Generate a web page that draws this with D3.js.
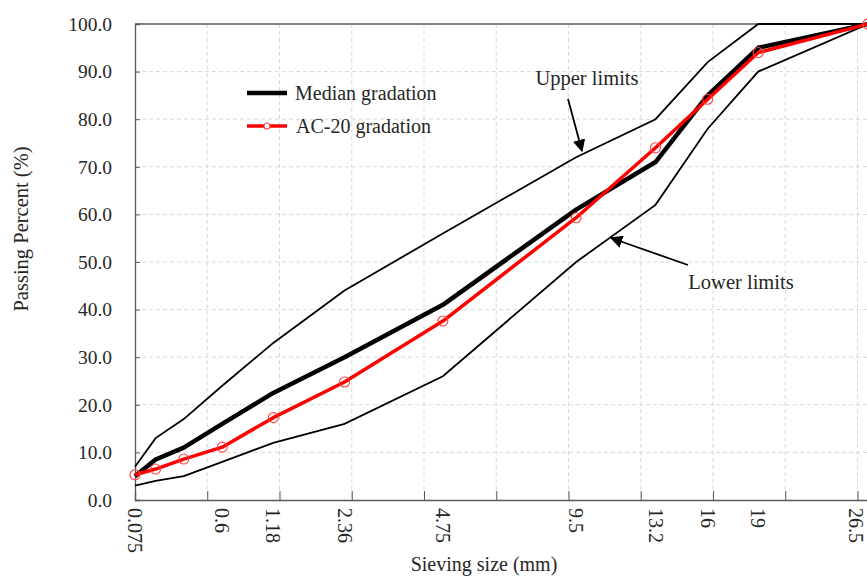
<!DOCTYPE html>
<html>
<head>
<meta charset="utf-8">
<script src="https://cdn.jsdelivr.net/npm/d3@7.9.0/dist/d3.min.js"></script>
<style>
  body { margin: 0; background: #fff; }
  svg { display: block; font-family: "Liberation Serif", "Times New Roman", serif; }
</style>
</head>
<body>
<svg id="chart" width="867" height="577"></svg>
<script>
// sieve sizes (mm) and passing percentages
const sieves = [0.075, 0.15, 0.3, 0.6, 1.18, 2.36, 4.75, 9.5, 13.2, 16, 19, 26.5];
const upperLimits = [7, 13, 17, 24, 33, 44, 56, 72, 80, 92, 100, 100];
const lowerLimits = [3, 4, 5, 8, 12, 16, 26, 50, 62, 78, 90, 100];
const median = [5, 8.5, 11, 16, 22.5, 30, 41, 61, 71, 85, 95, 100];
const ac20 = [5.3, 6.5, 8.6, 11.1, 17.3, 24.8, 37.6, 59.3, 74.0, 84.2, 94.0, 100];

// tick labels shown under the axis
const xLabels = [0.075, 0.6, 1.18, 2.36, 4.75, 9.5, 13.2, 16, 19, 26.5];
const yTicks = [0, 10, 20, 30, 40, 50, 60, 70, 80, 90, 100];

const svg = d3.select('#chart');

// plot area
const plotLeft = 135, plotRight = 868, plotTop = 24, plotBottom = 500;

// power 0.45 scale, as usual for gradation curves
const x = d3.scalePow().exponent(0.45).domain([0.075, 26.5]).range([plotLeft, plotRight]);
const y = d3.scaleLinear().domain([0, 100]).range([plotBottom, plotTop]);

// the gridlines are evenly spaced in the transformed unit (step 0.4)
const u0 = Math.pow(0.075, 0.45);
const gridX = d3.range(0, 11).map(k => Math.pow(u0 + 0.4 * k, 1 / 0.45));

// gridlines
svg.append('g')
  .selectAll('line')
  .data(gridX.slice(1))
  .join('line')
  .attr('x1', d => x(d)).attr('x2', d => x(d))
  .attr('y1', plotTop).attr('y2', plotBottom)
  .attr('stroke', '#d9d9d9')
  .attr('stroke-dasharray', '4,3');

svg.append('g')
  .selectAll('line')
  .data(yTicks.slice(1, -1))
  .join('line')
  .attr('x1', plotLeft).attr('x2', plotRight)
  .attr('y1', d => y(d)).attr('y2', d => y(d))
  .attr('stroke', '#d9d9d9')
  .attr('stroke-dasharray', '4,3');

// top border
svg.append('line')
  .attr('x1', plotLeft).attr('x2', plotRight)
  .attr('y1', y(100)).attr('y2', y(100))
  .attr('stroke', '#595959').attr('stroke-width', 1.3);

// y axis (ticks inside)
const yAxis = svg.append('g')
  .attr('transform', `translate(${plotLeft},0)`)
  .call(d3.axisRight(y).tickValues(yTicks).tickSize(5).tickFormat(''));
yAxis.select('.domain').attr('stroke', '#595959').attr('stroke-width', 1.3);
yAxis.selectAll('.tick line').attr('stroke', '#595959');

svg.append('g')
  .selectAll('text')
  .data(yTicks)
  .join('text')
  .attr('x', 112)
  .attr('y', d => y(d))
  .attr('dy', '0.35em')
  .attr('text-anchor', 'end')
  .attr('font-size', 19.5)
  .attr('fill', '#262626')
  .text(d => d.toFixed(1));

// x axis (ticks inside)
const xAxis = svg.append('g')
  .attr('transform', `translate(0,${plotBottom})`)
  .call(d3.axisTop(x).tickValues(gridX).tickSize(9).tickFormat(''));
xAxis.select('.domain').attr('stroke', '#595959').attr('stroke-width', 1.3);
xAxis.selectAll('.tick line').attr('stroke', '#595959');

// rotated labels, kept inside the right edge
svg.append('g')
  .selectAll('text')
  .data(xLabels)
  .join('text')
  .attr('transform', d => `translate(${Math.min(x(d), plotRight - 12)},${plotBottom + 8}) rotate(90)`)
  .attr('dy', '0.35em')
  .attr('font-size', 20)
  .attr('fill', '#262626')
  .text(d => d);

// axis titles
svg.append('text')
  .attr('transform', `translate(28,229) rotate(-90)`)
  .attr('text-anchor', 'middle')
  .attr('font-size', 20.5)
  .attr('fill', '#262626')
  .text('Passing Percent (%)');

svg.append('text')
  .attr('x', 484).attr('y', 571)
  .attr('text-anchor', 'middle')
  .attr('font-size', 20)
  .attr('fill', '#262626')
  .text('Sieving size (mm)');

// lines
const line = d3.line()
  .x((d, i) => x(sieves[i]))
  .y(d => y(d));

svg.append('path').datum(upperLimits)
  .attr('d', line).attr('fill', 'none')
  .attr('stroke', '#000').attr('stroke-width', 1.8);

svg.append('path').datum(lowerLimits)
  .attr('d', line).attr('fill', 'none')
  .attr('stroke', '#000').attr('stroke-width', 1.8);

svg.append('path').datum(median)
  .attr('d', line).attr('fill', 'none')
  .attr('stroke', '#000').attr('stroke-width', 4.5)
  .attr('stroke-linejoin', 'round');

svg.append('path').datum(ac20)
  .attr('d', line).attr('fill', 'none')
  .attr('stroke', '#ff0000').attr('stroke-width', 3.5)
  .attr('stroke-linejoin', 'round');

svg.append('g')
  .selectAll('circle')
  .data(ac20)
  .join('circle')
  .attr('cx', (d, i) => x(sieves[i]))
  .attr('cy', d => y(d))
  .attr('r', 5)
  .attr('fill', 'none')
  .attr('stroke', '#ff4040')
  .attr('stroke-width', 1.1);

// legend
const legend = svg.append('g');
legend.append('line')
  .attr('x1', 247).attr('x2', 287).attr('y1', 93).attr('y2', 93)
  .attr('stroke', '#000').attr('stroke-width', 4.5);
legend.append('text')
  .attr('x', 295).attr('y', 100)
  .attr('font-size', 20).attr('fill', '#262626')
  .text('Median gradation');
legend.append('line')
  .attr('x1', 247).attr('x2', 287).attr('y1', 126).attr('y2', 126)
  .attr('stroke', '#ff0000').attr('stroke-width', 3.5);
legend.append('circle')
  .attr('cx', 267).attr('cy', 126).attr('r', 3)
  .attr('fill', '#fff').attr('stroke', '#ff4040').attr('stroke-width', 1.1);
legend.append('text')
  .attr('x', 296).attr('y', 133)
  .attr('font-size', 20).attr('fill', '#262626')
  .text('AC-20 gradation');

// annotations with arrows
svg.append('defs').append('marker')
  .attr('id', 'arrow')
  .attr('viewBox', '0 0 10 10')
  .attr('refX', 9).attr('refY', 5)
  .attr('markerWidth', 7).attr('markerHeight', 7)
  .attr('markerUnits', 'strokeWidth')
  .attr('orient', 'auto')
  .append('path')
  .attr('d', 'M0,0 L10,5 L0,10 z')
  .attr('fill', '#000');

svg.append('text')
  .attr('x', 587).attr('y', 85)
  .attr('text-anchor', 'middle')
  .attr('font-size', 20.5).attr('fill', '#262626')
  .text('Upper limits');
svg.append('line')
  .attr('x1', 568).attr('y1', 99).attr('x2', 582).attr('y2', 151)
  .attr('stroke', '#000').attr('stroke-width', 1.8)
  .attr('marker-end', 'url(#arrow)');

svg.append('text')
  .attr('x', 741).attr('y', 289)
  .attr('text-anchor', 'middle')
  .attr('font-size', 20.5).attr('fill', '#262626')
  .text('Lower limits');
svg.append('line')
  .attr('x1', 688).attr('y1', 265).attr('x2', 611).attr('y2', 238)
  .attr('stroke', '#000').attr('stroke-width', 1.8)
  .attr('marker-end', 'url(#arrow)');
</script>
</body>
</html>
